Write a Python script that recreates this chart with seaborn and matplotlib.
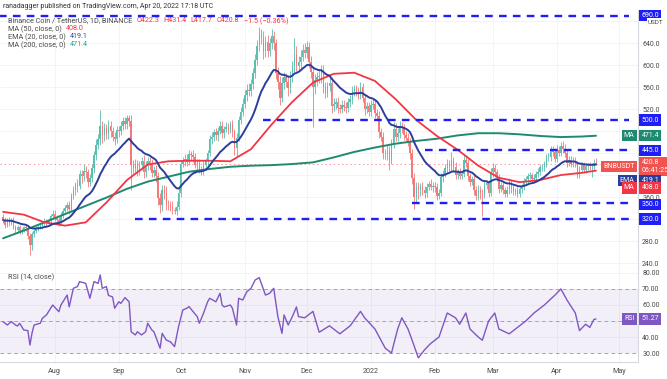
import numpy as np
import pandas as pd
import matplotlib
matplotlib.use("Agg")
import matplotlib.pyplot as plt
from matplotlib.transforms import blended_transform_factory
import seaborn as sns

# BNB/USDT daily candles, 7 Jul 2021 - 20 Apr 2022
first_open = 324.0
close_jul = [318, 309, 318, 313, 318, 306, 300, 305, 298, 300, 305, 303, 290, 272, 293,
             298, 303, 306, 308, 312, 315, 312, 318, 325, 330]
close_aug = [322, 318, 315, 328, 334, 340, 345, 338, 362, 372, 382, 380, 402, 398, 408,
             405, 388, 394, 412, 436, 455, 465, 490, 472, 485, 474, 490, 480, 470, 465, 482]
close_sep = [480, 490, 498, 492, 503, 498, 418, 412, 420, 408, 418, 426, 405, 417, 425,
             420, 404, 410, 398, 358, 345, 372, 368, 346, 345, 342, 336, 334, 342, 368]
close_oct = [420, 425, 430, 424, 438, 437, 432, 418, 422, 410, 408, 418, 425, 440, 465,
             470, 478, 472, 480, 490, 476, 484, 488, 482, 492, 478, 450, 468, 500, 515, 530]
close_nov = [545, 555, 552, 565, 585, 610, 635, 655, 650, 625, 642, 625, 640, 652, 640,
             585, 570, 540, 568, 578, 570, 558, 580, 598, 620, 598, 605, 615, 628, 622]
close_dec = [632, 605, 588, 560, 572, 578, 580, 590, 560, 550, 562, 568, 525, 530, 532,
             522, 520, 528, 524, 522, 532, 538, 552, 556, 552, 546, 560, 540, 520, 525, 515]
close_jan = [528, 530, 512, 508, 478, 470, 440, 438, 444, 428, 458, 484, 470, 476, 488,
             485, 472, 468, 460, 440, 395, 360, 378, 372, 378, 372, 368, 378, 384, 378, 380]
close_feb = [378, 362, 368, 396, 402, 412, 420, 416, 425, 415, 400, 405, 398, 402, 428,
             422, 398, 388, 392, 372, 362, 372, 366, 365, 382, 385, 368, 405]
close_mar = [412, 405, 395, 375, 382, 372, 366, 372, 386, 375, 370, 372, 366, 374, 378,
             388, 392, 398, 400, 392, 395, 402, 406, 414, 414, 420, 432, 432, 445, 442, 430]
close_apr = [446, 440, 452, 448, 440, 422, 428, 420, 426, 420, 400, 410, 418, 410, 416,
             418, 416, 416, 422.3, 420.8]

# wick lengths above / below the body
wick_up = ([6, 5, 4, 5, 3, 6, 4, 5, 5, 4, 3, 4, 4, 5, 4, 6, 5, 4, 5, 4, 6, 5, 4, 5, 6]
           + [6, 5, 6, 5, 6, 5, 6, 8, 6, 8, 6, 10, 8, 8, 12, 8, 6, 8, 8, 8, 10, 10, 28, 8, 10, 8, 10, 8, 8, 8, 8]
           + [8, 8, 8, 8, 6, 6, 12, 10, 10, 8, 8, 6, 10, 8, 8, 8, 10, 6, 8, 8, 10, 10, 10, 12, 8, 8, 10, 6, 10, 10]
           + [8, 8, 8, 8, 8, 6, 8, 8, 8, 8, 6, 8, 6, 6, 8, 8, 6, 8, 8, 8, 8, 6, 8, 6, 6, 8, 6, 8, 8, 8, 10]
           + [10, 10, 12, 10, 10, 10, 10, 14, 10, 12, 10, 12, 10, 14, 10, 8, 12, 10, 10, 10, 8, 12, 10, 10, 30, 14, 12, 12, 10, 12]
           + [12, 10, 12, 10, 12, 10, 12, 10, 10, 10, 8, 8, 10, 10, 8, 10, 8, 8, 8, 8, 8, 8, 10, 8, 8, 8, 10, 8, 8, 8, 8]
           + [8, 8, 8, 8, 8, 8, 8, 8, 10, 8, 8, 12, 10, 10, 10, 8, 8, 8, 8, 8, 8, 8, 10, 10, 8, 10, 8, 8, 6, 8, 8]
           + [8, 8, 6, 8, 8, 8, 10, 8, 16, 8, 8, 6, 8, 6, 10, 8, 8, 6, 6, 8, 8, 10, 8, 8, 8, 6, 6, 8]
           + [10, 8, 6, 6, 6, 6, 6, 8, 8, 6, 6, 4, 6, 6, 6, 6, 6, 6, 6, 4, 6, 6, 6, 6, 6, 6, 6, 8, 8, 8, 8]
           + [8, 6, 8, 10, 8, 8, 6, 6, 6, 6, 6, 6, 6, 6, 6, 4, 6, 6, 6, 9.1])
wick_dn = ([5, 6, 4, 5, 4, 5, 6, 4, 6, 5, 4, 4, 6, 18, 8, 5, 4, 5, 4, 6, 5, 5, 4, 5, 4]
           + [6, 6, 8, 5, 6, 5, 6, 8, 6, 6, 8, 10, 6, 12, 8, 10, 10, 8, 6, 8, 8, 8, 10, 14, 10, 8, 8, 10, 8, 10, 6]
           + [10, 8, 8, 8, 8, 8, 45, 10, 8, 10, 8, 8, 10, 8, 8, 10, 8, 8, 10, 12, 14, 10, 12, 10, 8, 8, 6, 5, 6, 6]
           + [8, 6, 8, 8, 6, 10, 8, 6, 8, 6, 8, 8, 8, 6, 6, 8, 8, 8, 10, 6, 8, 8, 6, 8, 6, 8, 14, 16, 6, 8, 8]
           + [8, 10, 8, 8, 8, 8, 10, 10, 12, 14, 10, 10, 8, 10, 12, 10, 14, 12, 8, 12, 10, 14, 8, 10, 10, 8, 10, 10, 8, 10]
           + [10, 10, 12, 72, 12, 10, 10, 12, 10, 10, 8, 10, 12, 8, 10, 10, 8, 8, 8, 10, 8, 8, 8, 8, 8, 8, 8, 8, 10, 8, 8]
           + [8, 8, 8, 8, 10, 8, 10, 8, 10, 19, 8, 8, 8, 8, 8, 8, 8, 8, 8, 10, 12, 22, 10, 16, 10, 8, 10, 8, 6, 6, 8]
           + [8, 8, 6, 6, 8, 6, 8, 8, 8, 10, 8, 8, 6, 6, 6, 8, 8, 8, 6, 8, 8, 8, 10, 40, 6, 8, 8, 6]
           + [8, 8, 6, 8, 6, 6, 6, 6, 6, 8, 6, 6, 6, 6, 6, 6, 6, 6, 6, 6, 6, 6, 6, 6, 6, 6, 6, 6, 6, 8, 6]
           + [6, 6, 6, 8, 8, 8, 6, 6, 6, 6, 6, 6, 6, 6, 6, 6, 6, 20, 6, 3.1])

# moving averages read every 10 days (day index from 7 Jul 2021)
ma_index = list(range(0, 281, 10)) + [287]
ma50 = [333, 328, 314, 308, 314, 350, 391, 419, 425, 426, 426, 425, 447, 492, 533,
        568, 584, 586, 571, 538, 500, 471, 446, 417, 395, 387, 391, 400, 404, 408.0]
ma200 = [285, 299, 314, 329, 344, 359, 375, 388, 397, 406, 411, 415, 417, 418, 420,
         423, 432, 442, 450, 457, 462, 466, 472, 476, 476, 474, 471, 469, 470, 471.4]

# RSI(14) readings
rsi_index = [0, 1, 2, 4, 6, 7, 8, 10, 12, 13, 14, 15, 18, 19, 21, 24, 27, 28, 31, 32, 34, 36, 37,
             40, 42, 44, 46, 47, 48, 50, 51, 53, 54, 56, 57, 59, 61, 62, 64, 65, 67, 69, 70, 72,
             73, 76, 77, 79, 81, 83, 85, 87, 89, 90, 92, 94, 95, 97, 99, 100, 103, 105, 106, 107,
             110, 111, 113, 114, 116, 118, 120, 122, 124, 127, 129, 131, 133, 135, 136, 138, 140,
             142, 143, 146, 150, 153, 158, 163, 168, 173, 175, 180, 185, 188, 191, 193, 196, 198,
             201, 204, 207, 211, 215, 219, 221, 224, 226, 230, 232, 235, 238, 240, 245, 248, 253,
             257, 262, 267, 270, 273, 277, 279, 282, 284, 286, 287]
rsi_vals = [49.5, 48.6, 47.5, 49.6, 47.5, 46.9, 48.6, 44.4, 44, 35, 42.5, 47.5, 48.6, 51.7, 53.8,
            60, 55.8, 60, 66.2, 58.8, 70.4, 71.5, 74.6, 73.5, 64.2, 74.6, 73.5, 78.8, 70.4, 71.5,
            66, 65, 58, 62, 61, 64.6, 62, 43.3, 41.3, 43.3, 41.3, 43.3, 48.6, 44.4, 43.3, 33, 42.3,
            38.1, 37, 34, 46.9, 56.9, 58, 59, 55.8, 52.7, 48.6, 54.8, 62, 64.2, 62, 67.3, 60, 58.8,
            60, 58, 47.5, 64.2, 63.1, 68.3, 70.4, 75.6, 77.1, 66.2, 67.3, 70.4, 52.7, 42.3, 53.8,
            47.5, 52.7, 58.8, 52.7, 52, 56, 43, 47, 42, 47, 56, 52, 45, 33, 30, 45, 52, 45, 38, 27,
            32, 36, 40, 55, 52, 48, 55, 45, 40, 38, 50, 55, 45, 42, 45, 50, 55, 60, 66, 70, 63, 55,
            44, 48, 46, 51, 51.27]

# horizontal levels drawn on the chart
levels = [690, 500, 445, 350, 320]
level_from = ["2021-07-05", "2021-11-10", "2022-01-27", "2022-01-21", "2021-09-09"]
level_to = "2022-05-06"

months = ["2021-08-01", "2021-09-01", "2021-10-01", "2021-11-01", "2021-12-01",
          "2022-01-01", "2022-02-01", "2022-03-01", "2022-04-01", "2022-05-01"]
month_labels = ["Aug", "Sep", "Oct", "Nov", "Dec", "2022", "Feb", "Mar", "Apr", "May"]

sns.set_style("white")
plt.rcParams["font.family"] = ["Roboto", "DejaVu Sans"]
plt.rcParams["lines.scale_dashes"] = False

close = (close_jul + close_aug + close_sep + close_oct + close_nov + close_dec
         + close_jan + close_feb + close_mar + close_apr)
df = pd.DataFrame({"close": close, "up": wick_up, "dn": wick_dn})
df["date"] = pd.date_range("2021-07-07", periods=len(df), freq="D")
df["open"] = df["close"].shift(1).fillna(first_open)
top = df[["open", "close"]].max(axis=1)
bot = df[["open", "close"]].min(axis=1)
df["high"] = top + df["up"]
df["low"] = bot - df["dn"]
ema20 = df["close"].ewm(span=20, adjust=False).mean()

UP, DOWN = "#5bbfb0", "#f47a7a"
RED, NAVY, TEAL, PURPLE, BLUE = "#f23645", "#2c3e9c", "#1e8a70", "#7e57c2", "#1f1ff5"
GRID = "#f0f3fa"

W, H = 667, 379
def box(x0, y0, x1, y1):
    return [x0 / W, 1 - y1 / H, (x1 - x0) / W, (y1 - y0) / H]

fig = plt.figure(figsize=(6.67, 3.79), dpi=100)
ax = fig.add_axes(box(0, 10, 638, 268))
ax_r = fig.add_axes(box(0, 268, 638, 362), sharex=ax)

x_start, x_end = pd.Timestamp("2021-07-05 12:00"), pd.Timestamp("2022-05-10 08:00")

# candles
colors = np.where(df["close"] >= df["open"], UP, DOWN)
ax.vlines(df["date"], df["low"], df["high"], colors=colors, lw=0.6, zorder=2)
ax.bar(df["date"], (top - bot).clip(lower=0.8), bottom=bot, width=0.7,
       color=colors, linewidth=0, zorder=2.1)

# moving averages
sns.lineplot(x=df["date"].iloc[ma_index], y=ma200, ax=ax, color=TEAL, lw=1.4, zorder=4, estimator=None)
sns.lineplot(x=df["date"].iloc[ma_index], y=ma50, ax=ax, color=RED, lw=1.3, zorder=4, estimator=None)
sns.lineplot(x=df["date"], y=ema20, ax=ax, color=NAVY, lw=1.4, zorder=4, estimator=None)

# support / resistance
for lv, start in zip(levels, level_from):
    ax.plot([pd.Timestamp(start), pd.Timestamp(level_to)], [lv, lv], color=BLUE,
            lw=1.7, dashes=(5.5, 4.5), zorder=5)

last = df["close"].iloc[-1]
ax.axhline(last, color=RED, lw=0.6, ls=(0, (1, 2)), alpha=0.6, zorder=1.5)

ax.set_ylim(231, 700)
ax_r.set_ylim(24.4, 83.1)

# RSI panel
ax_r.axhspan(30, 70, color=PURPLE, alpha=0.09, lw=0)
for v in (70, 50, 30):
    ax_r.axhline(v, color="#9598a1", lw=0.6, dashes=(2.5, 2.5))
sns.lineplot(x=df["date"].iloc[rsi_index], y=rsi_vals, ax=ax_r, color=PURPLE, lw=1.0,
             estimator=None, zorder=4)

for a in (ax, ax_r):
    a.set_xlim(x_start, x_end)
    a.set_xlabel("")
    a.set_ylabel("")
    a.spines["top"].set_visible(False)
    a.spines["left"].set_visible(False)
    for s in ("right", "bottom"):
        a.spines[s].set_color("#d6d9e0")
        a.spines[s].set_linewidth(0.8)
    a.yaxis.tick_right()
    a.tick_params(axis="y", length=0, labelsize=5, labelcolor="#4a4a4a", pad=3)
    a.set_xticks(pd.to_datetime(months))
    a.grid(True, color=GRID, lw=0.6)
    a.set_axisbelow(True)

# tick labels that sit under the value boxes are left blank
hidden = {400, 440, 480, 680}
ax.set_yticks(list(range(240, 681, 40)))
ax.set_yticklabels(["" if v in hidden else f"{v:.1f}" for v in range(240, 681, 40)])
ax_r.set_yticks([30, 40, 50, 60, 70, 80])
ax_r.set_yticklabels(["" if v == 50 else f"{v:.2f}" for v in [30, 40, 50, 60, 70, 80]])
ax.tick_params(axis="x", length=0, labelbottom=False)
ax_r.set_xticklabels(month_labels)
ax_r.tick_params(axis="x", length=0, labelsize=5.2, labelcolor="#4a4a4a", pad=4)


def price_box(a, value, text, color, dy=0, tag=None, tag_color=None, fs=5):
    tr = blended_transform_factory(a.transAxes, a.transData)
    a.annotate(text, xy=(1, value), xycoords=tr, xytext=(2.5, dy), textcoords="offset points",
               ha="left", va="center", fontsize=fs, color="white", linespacing=1.1,
               bbox=dict(boxstyle="square,pad=0.3", fc=color, ec="none"),
               annotation_clip=False, zorder=10)
    if tag:
        a.annotate(tag, xy=(1, value), xycoords=tr, xytext=(-2.5, dy), textcoords="offset points",
                   ha="right", va="center", fontsize=fs, color="white",
                   bbox=dict(boxstyle="square,pad=0.3", fc=tag_color, ec="none"),
                   annotation_clip=False, zorder=10)


for lv in levels:
    price_box(ax, lv, f"{lv:.1f}", BLUE, dy=-1.2 if lv == 350 else 0)
price_box(ax, ma200[-1], f"{ma200[-1]:.1f}", TEAL, tag="MA", tag_color=TEAL)
price_box(ax, last, f"{last:.1f}\n06:41:25", "#f05350", dy=-2.2, tag="BNBUSDT", tag_color="#f05350")
price_box(ax, ema20.iloc[-1], f"{ema20.iloc[-1]:.1f}", NAVY, dy=-11.2, tag="EMA", tag_color=NAVY)
price_box(ax, ma50[-1], f"{ma50[-1]:.1f}", RED, dy=-12.5, tag="MA", tag_color=RED)
price_box(ax_r, rsi_vals[-1], f"{rsi_vals[-1]:.2f}", PURPLE, tag="RSI", tag_color=PURPLE)
fig.text(648 / W, 1 - 22 / H, "USDT", fontsize=4.6, color="#4a4a4a", va="center",
         bbox=dict(boxstyle="square,pad=0.2", fc="white", ec="none"), zorder=11)


def text_row(x_px, y_px, parts, fs=5.2):
    prev = fig.text(x_px / W, 1 - y_px / H, parts[0][0], color=parts[0][1], fontsize=fs, va="center")
    for txt, col in parts[1:]:
        prev = ax.annotate(txt, xy=(1, 0.5), xycoords=prev, xytext=(3, 0), textcoords="offset points",
                           ha="left", va="center", color=col, fontsize=fs, annotation_clip=False)
    return prev


o, h, l, c = df[["open", "high", "low", "close"]].iloc[-1]
chg = c - o
text_row(3, 6, [("ranadagger published on TradingView.com, Apr 20, 2022 17:18 UTC", "#333333")], fs=5)
text_row(8, 21, [("Binance Coin / TetherUS, 1D, BINANCE", "#4a4a4a"),
                 (f"O{o:.1f}", RED), (f"H{h:.1f}", RED), (f"L{l:.1f}", RED), (f"C{c:.1f}", RED),
                 (f"\u2212{abs(chg):.1f} (\u2212{abs(chg) / o * 100:.2f}%)", RED)])
text_row(8, 29, [("MA (50, close, 0)", "#4a4a4a"), (f"{ma50[-1]:.1f}", RED)])
text_row(8, 37, [("EMA (20, close, 0)", "#4a4a4a"), (f"{ema20.iloc[-1]:.1f}", "#3949ab")])
text_row(8, 45, [("MA (200, close, 0)", "#4a4a4a"), (f"{ma200[-1]:.1f}", "#26a69a")])
text_row(8, 277, [("RSI (14, close)", "#4a4a4a"), (f"{rsi_vals[-1]:.2f}", PURPLE)])

fig.savefig("out.png", dpi=100, facecolor="white")
